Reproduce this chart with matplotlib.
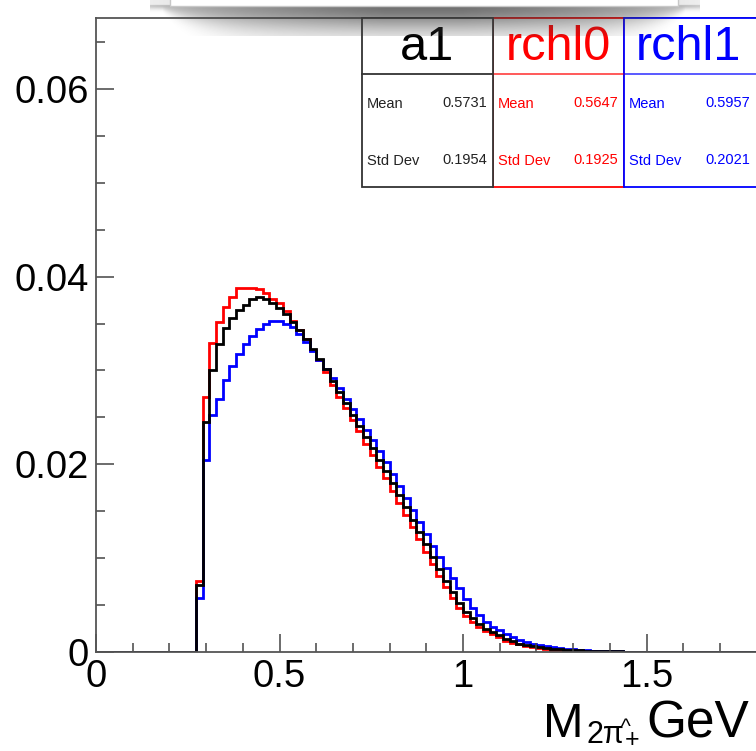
import numpy as np
import matplotlib
matplotlib.use("Agg")
import matplotlib.pyplot as plt
from matplotlib.patches import Rectangle

plt.rcParams['font.family'] = ['Liberation Sans', 'DejaVu Sans']

# histogram: 110 bins from 0 to 2, contents start at bin 15
x_min, x_max, n_bins = 0.0, 2.0, 110
first_bin = 15

a1 = [0.0071, 0.0245, 0.0300, 0.0328, 0.0345, 0.0356, 0.0364, 0.0370, 0.0376, 0.0378,
      0.0376, 0.0372, 0.0366, 0.0360, 0.0352, 0.0343, 0.0333, 0.0323, 0.0312, 0.0301,
      0.0289, 0.0277, 0.0265, 0.0253, 0.0241, 0.0229, 0.0217, 0.0205, 0.0193, 0.0180,
      0.0167, 0.0154, 0.0141, 0.0128, 0.0115, 0.0101, 0.0088, 0.0076, 0.0064, 0.0052,
      0.0043, 0.0036, 0.0030, 0.0025, 0.0021, 0.0018, 0.0014, 0.0012, 0.0009, 0.0007,
      0.0006, 0.0005, 0.0004, 0.0003, 0.0003, 0.0002, 0.0002, 0.0002, 0.0001, 0.0001,
      0.0001, 0.0001, 0.0001, 0.0001]
rchl0 = [0.0076, 0.0272, 0.0329, 0.0352, 0.0368, 0.0378, 0.0388, 0.0388, 0.0388, 0.0387,
         0.0382, 0.0376, 0.0372, 0.0363, 0.0353, 0.0343, 0.0333, 0.0322, 0.0311, 0.0298,
         0.0285, 0.0272, 0.0260, 0.0247, 0.0235, 0.0222, 0.0210, 0.0197, 0.0185, 0.0172,
         0.0159, 0.0146, 0.0133, 0.0120, 0.0107, 0.0094, 0.0081, 0.0069, 0.0058, 0.0047,
         0.0038, 0.0032, 0.0027, 0.0022, 0.0019, 0.0016, 0.0012, 0.0010, 0.0008, 0.0006,
         0.0005, 0.0004, 0.0003, 0.0002, 0.0002, 0.0002, 0.0001, 0.0001, 0.0001, 0.0001]
rchl1 = [0.0058, 0.0205, 0.0253, 0.0270, 0.0290, 0.0305, 0.0318, 0.0328, 0.0337, 0.0344,
         0.0350, 0.0353, 0.0353, 0.0350, 0.0346, 0.0339, 0.0330, 0.0321, 0.0311, 0.0301,
         0.0292, 0.0281, 0.0270, 0.0259, 0.0248, 0.0237, 0.0226, 0.0214, 0.0202, 0.0190,
         0.0177, 0.0164, 0.0151, 0.0138, 0.0126, 0.0113, 0.0101, 0.0090, 0.0079, 0.0068,
         0.0056, 0.0047, 0.0039, 0.0032, 0.0027, 0.0023, 0.0019, 0.0016, 0.0013, 0.0011,
         0.0009, 0.0007, 0.0006, 0.0005, 0.0004, 0.0003, 0.0003, 0.0002, 0.0002, 0.0001,
         0.0001, 0.0001, 0.0001, 0.0001]

names = ['a1', 'rchl0', 'rchl1']
colors = ['black', 'red', 'blue']
means = ['0.5731', '0.5647', '0.5957']
stds = ['0.1954', '0.1925', '0.2021']

x_ticks = [0, 0.5, 1, 1.5, 2]
x_ticklabels = ['0', '0.5', '1', '1.5', '2']
y_ticks = [0, 0.02, 0.04, 0.06]
y_ticklabels = ['0', '0.02', '0.04', '0.06']

W, H = 756, 751
fig = plt.figure(figsize=(W / 100, H / 100), dpi=100)

def fx(px):
    return px / W

def fy(py):
    return 1 - py / H

# main frame (right part runs past the picture edge)
ax = fig.add_axes([fx(96), fy(652), fx(734), 634 / H])
edges = np.linspace(x_min, x_max, n_bins + 1)

def full(vals):
    h = np.zeros(n_bins)
    h[first_bin:first_bin + len(vals)] = vals
    return h

for vals, c in [(rchl0, 'red'), (rchl1, 'blue'), (a1, 'black')]:
    ax.stairs(full(vals), edges, color=c, lw=2.0)

ax.set_xlim(x_min, x_max)
ax.set_ylim(0, 0.06755)
ax.set_xticks(x_ticks)
ax.set_xticklabels(x_ticklabels)
ax.set_yticks(y_ticks)
ax.set_yticklabels(y_ticklabels)
ax.set_xticks(np.arange(0, 2.01, 0.1), minor=True)
ax.set_yticks(np.arange(0, 0.0676, 0.005), minor=True)
ax.tick_params(which='both', direction='in', top=False, right=False, labelsize=27.5, color='#444444')
ax.tick_params(which='major', length=13, width=1.1)
ax.tick_params(which='minor', length=6.5, width=1.1)
ax.tick_params(axis='x', pad=5)
ax.tick_params(axis='y', pad=5)
for s in ax.spines.values():
    s.set_color('#555555')
    s.set_linewidth(1.3)

# x axis title
fig.text(fx(543), fy(737), 'M', fontsize=35, va='baseline', ha='left')
fig.text(fx(586), fy(743), '2\u03c0', fontsize=22, va='baseline', ha='left')
fig.text(fx(621), fy(733), '^', fontsize=15, va='baseline', ha='left')
fig.text(fx(625), fy(747), '+', fontsize=18, va='baseline', ha='left')
fig.text(fx(646), fy(737), 'GeV', fontsize=37, va='baseline', ha='left')

# stat boxes
box_x = [(362, 493), (493, 624), (624, 800)]
for i in [1, 0, 2]:
    x0, x1 = box_x[i]
    c = colors[i]
    fig.patches.append(Rectangle((fx(x0), fy(187)), fx(x1 - x0), (187 - 18) / H,
                                 transform=fig.transFigure, facecolor='white',
                                 edgecolor=c if i else '#333333', lw=1.3, zorder=2))
    fig.add_artist(plt.Line2D([fx(x0), fx(x1)], [fy(74), fy(74)], color=c if i else '#333333',
                              lw=1.3, alpha=0.7 if i else 1, zorder=2.5))
    tc = c if i else '#222222'
    fig.text(fx((x0 + min(x1, 756)) / 2 - (2 if i == 2 else 0)), fy(47), names[i], fontsize=35,
             color=c, ha='center', va='center', zorder=4)
    fig.text(fx(x0 + 5), fy(104), 'Mean', fontsize=10.5, color=tc, ha='left', va='center', zorder=4)
    fig.text(fx(x0 + 5), fy(161), 'Std Dev', fontsize=10.5, color=tc, ha='left', va='center', zorder=4)
    xr = min(x1, 756) - 6
    fig.text(fx(xr), fy(103), means[i], fontsize=10.5, color=tc, ha='right', va='center', zorder=4)
    fig.text(fx(xr), fy(160), stds[i], fontsize=10.5, color=tc, ha='right', va='center', zorder=4)

# title pad shadow at the top edge
sax = fig.add_axes([fx(150), fy(36), fx(550), 36 / H], zorder=10)
sax.set_xlim(150, 700)
sax.set_ylim(36, 0)
sax.axis('off')
gx, gy = np.meshgrid(np.linspace(150, 700, 550), np.linspace(0, 36, 72))
xc, hw = 424, 262
u = np.clip(np.abs(gx - xc) / hw, 0, 1.2)
reach = 4 + 22 * np.clip(1 - u ** 6, 0, 1)
d = np.clip(gy - 5, 0, None)
alpha = 0.75 * np.exp(-(d / reach) ** 2) * np.clip(1.15 - u, 0, 1) ** 0.4
alpha[gy < 5] *= 0.3
rgba = np.zeros(gx.shape + (4,))
rgba[..., :3] = 0.25
rgba[..., 3] = alpha
sax.imshow(rgba, extent=(150, 700, 36, 0), aspect='auto', interpolation='bilinear')
sax.add_patch(Rectangle((170, -2), 508, 8, facecolor='white', edgecolor='#c8c8c8', lw=1))

fig.savefig('out.png', dpi=100)
